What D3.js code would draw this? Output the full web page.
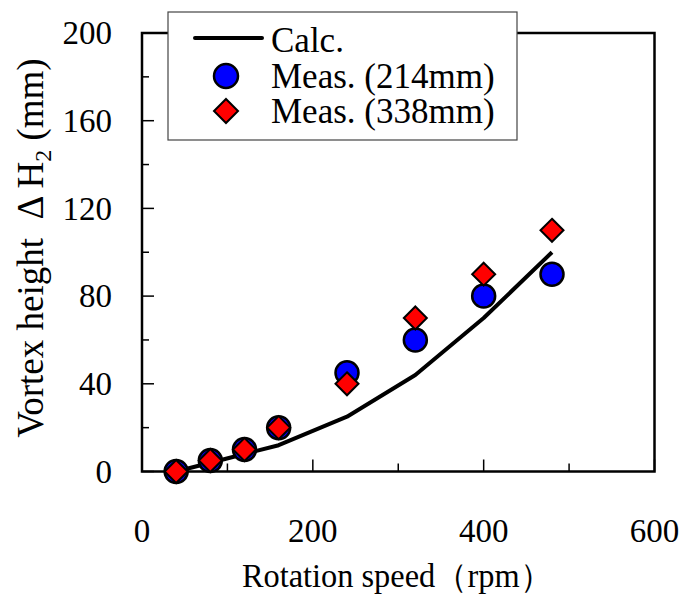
<!DOCTYPE html>
<html>
<head>
<meta charset="utf-8">
<script src="https://cdn.jsdelivr.net/npm/d3@7"></script>
</head>
<body style="margin:0;background:#fff">
<div class="chart"></div>
<script>
// rotation speed (rpm)
const speeds = [40, 80, 120, 160, 240, 320, 400, 480];
const calc = [0, 4, 8, 12, 25, 44, 70, 100];
const meas214 = [0, 5, 10, 20, 45, 60, 80, 90];
const meas338 = [0, 5, 10, 20, 40, 70, 90, 110];
const xTicks = [0, 200, 400, 600];
const xMinor = [100, 300, 500];
const yTicks = [0, 40, 80, 120, 160, 200];
const yMinor = [20, 60, 100, 140, 180];
const legendLabels = ["Calc.", "Meas. (214mm)", "Meas. (338mm)"];

const W = 685, H = 601;
const pLeft = 142, pRight = 654.5, pTop = 33, pBottom = 471.5;

const svg = d3.select(".chart").append("svg")
  .attr("width", W).attr("height", H);

const x = d3.scaleLinear().domain([0, 600]).range([pLeft, pRight]);
const y = d3.scaleLinear().domain([0, 200]).range([pBottom, pTop]);

// serif text helper
function label(sel) {
  return sel.style("font-family", () => "'Liberation Serif', Tinos");
}

// frame
svg.append("rect")
  .attr("x", pLeft).attr("y", pTop)
  .attr("width", pRight - pLeft).attr("height", pBottom - pTop)
  .attr("fill", "none").attr("stroke", "#000").attr("stroke-width", 2.5);

// ticks (inside)
const g = svg.append("g").attr("stroke", "#000").attr("stroke-width", 1.5);
g.selectAll(".xt").data(xTicks.concat(xMinor)).enter().append("line")
  .attr("x1", d => x(d)).attr("x2", d => x(d))
  .attr("y1", pBottom).attr("y2", d => pBottom - (xTicks.includes(d) ? 12 : 8));
g.selectAll(".yt").data(yTicks.concat(yMinor)).enter().append("line")
  .attr("y1", d => y(d)).attr("y2", d => y(d))
  .attr("x1", pLeft).attr("x2", d => pLeft + (yTicks.includes(d) ? 12 : 7));

// tick labels
label(svg.selectAll(".xl").data(xTicks).enter().append("text")
  .attr("x", d => x(d)).attr("y", 542)
  .attr("text-anchor", "middle").attr("font-size", 33))
  .text(d => d);
label(svg.selectAll(".yl").data(yTicks).enter().append("text")
  .attr("x", 112).attr("y", d => y(d)).attr("dy", "0.34em")
  .attr("text-anchor", "end").attr("font-size", 33))
  .text(d => d);

// axis titles
label(svg.append("text")
  .attr("x", 242).attr("y", 587)
  .attr("font-size", 33)
  .attr("textLength", 310).attr("lengthAdjust", "spacingAndGlyphs"))
  .text("Rotation speed（rpm）");

const yt = label(svg.append("text")
  .attr("transform", "translate(43,248) rotate(-90)")
  .attr("text-anchor", "middle").attr("font-size", 37));
yt.append("tspan").text("Vortex height \u00a0Δ H");
yt.append("tspan").attr("font-size", 24).attr("dy", 8).text("2");
yt.append("tspan").attr("dy", -8).text(" (mm)");

// calc line
const line = d3.line().x((d, i) => x(speeds[i])).y(d => y(d));
svg.append("path").datum(calc)
  .attr("d", line)
  .attr("fill", "none").attr("stroke", "#000").attr("stroke-width", 4)
  .attr("stroke-linejoin", "round");

// markers
const diamond = r => `M0,${-r}L${r},0L0,${r}L${-r},0Z`;
svg.selectAll(".c").data(meas214).enter().append("circle")
  .attr("cx", (d, i) => x(speeds[i])).attr("cy", d => y(d))
  .attr("r", 11.5)
  .attr("fill", "#0000ff").attr("stroke", "#000").attr("stroke-width", 2.5);
svg.selectAll(".d").data(meas338).enter().append("path")
  .attr("transform", (d, i) => `translate(${x(speeds[i])},${y(d)})`)
  .attr("d", diamond(11.5))
  .attr("fill", "#ff0000").attr("stroke", "#000").attr("stroke-width", 2);

// legend
const lg = svg.append("g");
lg.append("rect")
  .attr("x", 168).attr("y", 12).attr("width", 349).attr("height", 128)
  .attr("fill", "#fff").attr("stroke", "#444").attr("stroke-width", 1.2);
lg.append("line")
  .attr("x1", 195).attr("x2", 262).attr("y1", 38).attr("y2", 38)
  .attr("stroke", "#000").attr("stroke-width", 4).attr("stroke-linecap", "round");
lg.append("circle").attr("cx", 226).attr("cy", 76).attr("r", 12)
  .attr("fill", "#0000ff").attr("stroke", "#000").attr("stroke-width", 2.5);
lg.append("path").attr("transform", "translate(226,111)")
  .attr("d", diamond(12))
  .attr("fill", "#ff0000").attr("stroke", "#000").attr("stroke-width", 2);
label(lg.selectAll(".lt").data(legendLabels).enter().append("text")
  .attr("x", 271).attr("y", (d, i) => 52 + i * 35.5)
  .attr("font-size", 35))
  .text(d => d);
</script>
</body>
</html>
